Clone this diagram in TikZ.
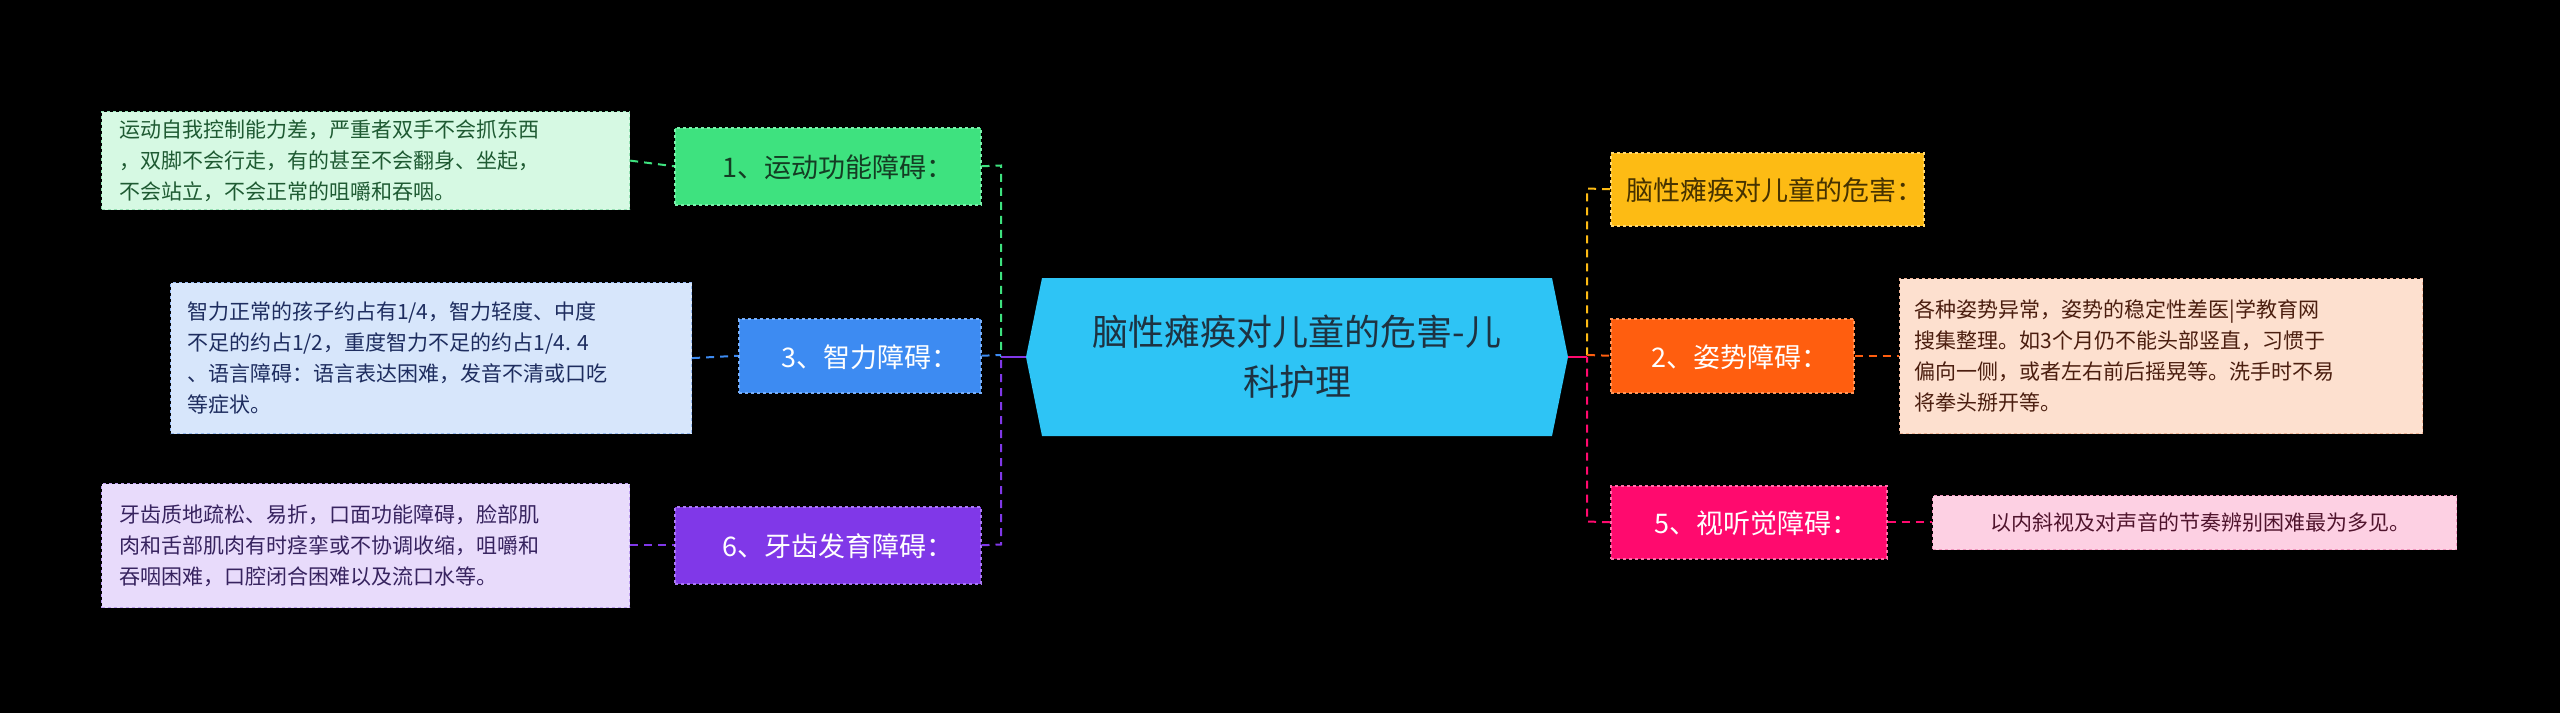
\documentclass[tikz,border=0pt]{standalone}
\usepackage{fontspec}
\setmainfont{Noto Sans CJK SC}
\usetikzlibrary{shapes.geometric}
\begin{document}
\begin{tikzpicture}[x=1pt,y=-1pt,
 lbl/.style={draw, dashed, line width=1.5pt, inner sep=0pt, anchor=north west, font=\fontsize{27}{32}\selectfont, align=left, text depth=0pt},
 txt/.style={draw, dashed, line width=1.2pt, inner sep=0pt, anchor=north west, font=\fontsize{21}{31}\selectfont, align=left},
 con/.style={dashed, line width=2pt, dash pattern=on 8pt off 6pt}]
\fill[black] (0,0) rectangle (2560,713);
\useasboundingbox (0,0) rectangle (2560,713);
% center
\fill[cyan!75!blue!80!white, fill={rgb,255:red,46;green,196;blue,245}] (1026,357) -- (1042,278) -- (1552,278) -- (1568,357) -- (1552,436) -- (1042,436) -- cycle;
\node (c) [font=\fontsize{36}{50}\selectfont, align=center, text={rgb,255:red,30;green,50;blue,65}] at (1297,357) {脑性瘫痪对儿童的危害-儿\\科护理};
\coordinate (cl) at (1026,357); \coordinate (cr) at (1568,357);
% left nodes
\node (n1) [lbl, fill={rgb,255:red,62;green,226;blue,127}, draw={rgb,255:red,120;green,240;blue,170}, minimum width=306pt, minimum height=77pt, text={rgb,255:red,20;green,60;blue,35}] at (674,127) {\hspace*{20pt}1、运动功能障碍：};
\node (n3) [lbl, fill={rgb,255:red,61;green,139;blue,242}, draw={rgb,255:red,120;green,175;blue,250}, minimum width=242pt, minimum height=74pt, text=white] at (738,318) {\hspace*{20pt}3、智力障碍：};
\node (n6) [lbl, fill={rgb,255:red,128;green,56;blue,232}, draw={rgb,255:red,170;green,120;blue,245}, minimum width=306pt, minimum height=77pt, text=white] at (674,506) {\hspace*{20pt}6、牙齿发育障碍：};
\node (t1) [txt, fill={rgb,255:red,214;green,249;blue,227}, draw={rgb,255:red,150;green,225;blue,180}, minimum width=528pt, minimum height=98pt, text={rgb,255:red,30;green,90;blue,50}] at (101,111) {\hspace*{12pt}\parbox{505pt}{运动自我控制能力差，严重者双手不会抓东西\\，双脚不会行走，有的甚至不会翻身、坐起，\\不会站立，不会正常的咀嚼和吞咽。}};
\node (t3) [txt, fill={rgb,255:red,215;green,230;blue,251}, draw={rgb,255:red,150;green,185;blue,240}, minimum width=521pt, minimum height=151pt, text={rgb,255:red,30;green,45;blue,95}] at (170,282) {\hspace*{12pt}\parbox{500pt}{智力正常的孩子约占有1/4，智力轻度、中度\\不足的约占1/2，重度智力不足的约占1/4. 4\\、语言障碍：语言表达困难，发音不清或口吃\\等症状。}};
\node (t6) [txt, fill={rgb,255:red,232;green,219;blue,251}, draw={rgb,255:red,190;green,160;blue,240}, minimum width=528pt, minimum height=124pt, text={rgb,255:red,55;green,35;blue,95}] at (101,483) {\hspace*{12pt}\parbox{505pt}{牙齿质地疏松、易折，口面功能障碍，脸部肌\\肉和舌部肌肉有时痉挛或不协调收缩，咀嚼和\\吞咽困难，口腔闭合困难以及流口水等。}};
% right nodes
\node (n0) [lbl, fill={rgb,255:red,253;green,187;blue,20}, draw={rgb,255:red,255;green,215;blue,110}, minimum width=294pt, minimum height=73pt, text={rgb,255:red,70;green,50;blue,0}] at (1610,152) {\hspace*{16pt}脑性瘫痪对儿童的危害：};
\node (n2) [lbl, fill={rgb,255:red,255;green,94;blue,15}, draw={rgb,255:red,255;green,150;blue,90}, minimum width=243pt, minimum height=74pt, text=white] at (1610,318) {\hspace*{16pt}2、姿势障碍：};
\node (n5) [lbl, fill={rgb,255:red,255;green,10;blue,110}, draw={rgb,255:red,255;green,110;blue,170}, minimum width=276pt, minimum height=73pt, text=white] at (1610,485) {\hspace*{16pt}5、视听觉障碍：};
\node (t2) [txt, fill={rgb,255:red,253;green,224;blue,207}, draw={rgb,255:red,240;green,180;blue,150}, minimum width=523pt, minimum height=155pt, text={rgb,255:red,75;green,30;blue,15}] at (1899,278) {\hspace*{12pt}\parbox{505pt}{各种姿势异常，姿势的稳定性差医|学教育网\\搜集整理。如3个月仍不能头部竖直，习惯于\\偏向一侧，或者左右前后摇晃等。洗手时不易\\将拳头掰开等。}};
\node (t5) [txt, fill={rgb,255:red,253;green,208;blue,227}, draw={rgb,255:red,240;green,150;blue,190}, minimum width=524pt, minimum height=54pt, text={rgb,255:red,80;green,20;blue,45}] at (1932,495) {\hspace*{12pt}以内斜视及对声音的节奏辨别困难最为多见。};
% connectors left
\draw[con, draw={rgb,255:red,62;green,226;blue,127}] (n1.east) -- (1001,165.5) -- (1001,357);
\draw[con, draw={rgb,255:red,128;green,56;blue,232}] (n6.east) -- (1001,544.5) -- (1001,357);
\draw[con, draw={rgb,255:red,61;green,139;blue,242}] (n3.east) -- (1001,355);
\draw[con, solid, draw={rgb,255:red,128;green,56;blue,232}] (cl) -- (1001,357);
\draw[con, draw={rgb,255:red,62;green,226;blue,127}] (t1.east) -- (n1.west);
\draw[con, draw={rgb,255:red,61;green,139;blue,242}] (t3.east) -- (n3.west);
\draw[con, draw={rgb,255:red,128;green,56;blue,232}] (t6.east |- n6.west) -- (n6.west);
% connectors right
\draw[con, draw={rgb,255:red,253;green,187;blue,20}] (n0.west) -- (1587,188.5) -- (1587,357);
\draw[con, draw={rgb,255:red,255;green,10;blue,110}] (n5.west) -- (1587,521.5) -- (1587,357);
\draw[con, draw={rgb,255:red,255;green,94;blue,15}] (1587,355) -- (n2.west);
\draw[con, solid, draw={rgb,255:red,255;green,10;blue,110}] (cr) -- (1587,357);
\draw[con, draw={rgb,255:red,255;green,94;blue,15}] (n2.east) -- (t2.west |- n2.east);
\draw[con, draw={rgb,255:red,255;green,10;blue,110}] (n5.east) -- (t5.west |- n5.east);
\end{tikzpicture}
\end{document}
